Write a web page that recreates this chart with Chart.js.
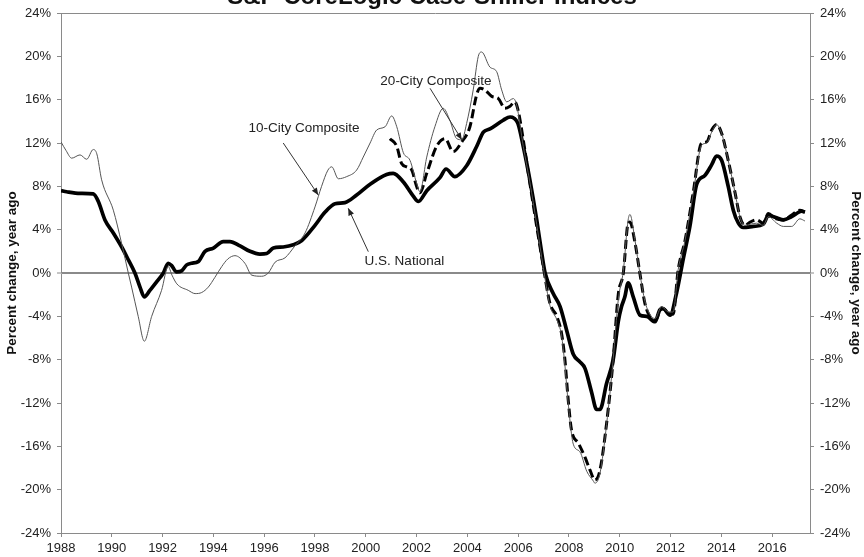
<!DOCTYPE html>
<html><head><meta charset="utf-8">
<script src="https://cdn.jsdelivr.net/npm/chart.js@4"></script>
<style>html,body{margin:0;padding:0;background:#fff;overflow:hidden;}#wrap{position:relative;width:864px;height:557px;}</style>
</head><body><div id="wrap"><canvas id="c" width="864" height="557"></canvas></div>
<script>
const titleText = 'S&P CoreLogic Case-Shiller Indices';
const axisTitle = 'Percent change, year ago';
const yTickValues = [-24,-20,-16,-12,-8,-4,0,4,8,12,16,20,24];
const xTickYears = [1988,1990,1992,1994,1996,1998,2000,2002,2004,2006,2008,2010,2012,2014,2016];

const nationalYears = [1988.00,1988.22,1988.75,1989.27,1989.47,1989.73,1990.06,1990.39,1990.59,1990.91,1991.11,1991.28,1991.50,1991.77,1992.03,1992.22,1992.35,1992.55,1992.75,1992.95,1993.14,1993.40,1993.67,1994.00,1994.39,1994.65,1995.05,1995.44,1995.83,1996.10,1996.36,1996.75,1997.15,1997.48,1998.00,1998.39,1998.79,1999.18,1999.64,2000.17,2000.82,2001.08,2001.48,2001.87,2002.07,2002.40,2002.92,2003.16,2003.51,2003.97,2004.37,2004.63,2004.89,2005.41,2005.68,2005.83,2005.99,2006.20,2006.46,2006.73,2006.93,2007.06,2007.38,2007.65,2007.91,2008.17,2008.43,2008.63,2008.89,2009.09,2009.22,2009.48,2009.74,2009.94,2010.07,2010.20,2010.33,2010.53,2010.80,2011.06,2011.39,2011.58,2011.71,2011.98,2012.24,2012.50,2012.76,2013.03,2013.35,2013.62,2013.81,2014.01,2014.27,2014.47,2014.67,2014.86,2015.26,2015.65,2015.85,2016.18,2016.44,2016.77,2017.16,2017.29];
const nationalValues = [7.6,7.5,7.35,7.3,6.6,4.9,3.7,2.4,1.5,0.0,-1.3,-2.2,-1.6,-0.8,0.0,0.9,0.7,0.1,0.2,0.75,0.9,1.05,2.0,2.3,2.9,2.9,2.5,2.0,1.75,1.8,2.3,2.4,2.6,3.0,4.4,5.6,6.4,6.5,7.2,8.2,9.1,9.2,8.4,7.1,6.6,7.6,8.8,9.6,8.9,9.9,11.7,13.0,13.3,14.1,14.4,14.3,13.8,11.7,8.6,4.9,1.8,0.0,-1.9,-3.1,-5.3,-7.5,-8.2,-8.8,-11.0,-12.6,-12.6,-10.2,-8.0,-4.5,-3.1,-2.2,-0.9,-2.2,-3.9,-4.0,-4.5,-3.4,-3.3,-3.9,-1.8,1.3,4.3,8.2,9.0,10.0,10.8,10.4,8.0,5.8,4.6,4.2,4.3,4.5,5.3,5.1,4.9,5.2,5.7,5.6];

const city10Years = [1988.00,1988.20,1988.42,1988.75,1989.01,1989.27,1989.41,1989.60,1990.06,1990.39,1990.65,1990.78,1991.04,1991.28,1991.57,1991.96,1992.22,1992.37,1992.56,1993.01,1993.28,1993.54,1993.80,1994.06,1994.33,1994.57,1994.85,1995.24,1995.51,1995.90,1996.16,1996.43,1996.82,1997.21,1997.61,1998.00,1998.26,1998.51,1998.66,1998.92,1999.25,1999.64,1999.90,2000.17,2000.43,2000.76,2001.02,2001.22,2001.48,2001.74,2002.00,2002.13,2002.40,2002.72,2003.05,2003.31,2003.58,2003.78,2003.97,2004.23,2004.43,2004.56,2004.89,2005.15,2005.35,2005.55,2005.81,2005.94,2006.20,2006.46,2006.73,2006.99,2007.25,2007.52,2007.71,2007.84,2007.97,2008.17,2008.43,2008.70,2008.96,2009.02,2009.22,2009.48,2009.74,2009.94,2010.14,2010.33,2010.40,2010.60,2010.79,2010.99,2011.18,2011.39,2011.65,2011.91,2012.10,2012.30,2012.57,2012.89,2013.22,2013.42,2013.62,2013.81,2014.01,2014.27,2014.54,2014.73,2014.93,2015.13,2015.39,2015.65,2015.85,2016.18,2016.44,2016.77,2017.09,2017.29];
const city10Values = [12.1,11.3,10.6,10.9,10.5,11.4,11.0,8.6,5.8,2.7,0.0,-1.3,-4.0,-6.3,-4.0,-1.6,0.6,-0.2,-1.0,-1.6,-1.9,-1.8,-1.3,-0.4,0.6,1.3,1.6,0.9,-0.2,-0.3,0.0,1.0,1.4,2.5,3.7,6.1,8.0,9.5,9.8,8.7,8.9,9.5,10.7,12.0,13.2,13.5,14.5,13.5,11.1,10.4,8.3,7.5,10.7,13.5,15.2,14.1,12.4,12.3,13.8,16.9,20.0,20.4,19.0,18.6,16.9,15.8,16.1,15.5,11.7,8.4,4.5,0.5,-3.0,-4.3,-5.8,-8.5,-12.0,-15.8,-16.5,-18.3,-19.2,-19.4,-18.5,-14.0,-8.0,-2.5,0.2,4.9,5.4,3.0,0.0,-2.6,-3.8,-4.2,-3.1,-3.6,-3.6,0.3,3.0,7.3,11.8,12.0,13.0,13.7,12.9,10.4,7.4,5.2,4.4,4.5,4.6,4.4,5.2,4.6,4.3,4.3,5.0,4.8];

const city20Years = [2000.95,2001.22,2001.41,2001.61,2001.81,2002.00,2002.13,2002.40,2002.79,2003.12,2003.44,2003.78,2004.10,2004.37,2004.50,2004.69,2004.96,2005.22,2005.48,2005.68,2005.87,2006.00,2006.20,2006.46,2006.73,2006.99,2007.25,2007.52,2007.71,2007.84,2007.97,2008.10,2008.37,2008.63,2008.83,2009.02,2009.22,2009.48,2009.74,2009.94,2010.14,2010.33,2010.40,2010.60,2010.79,2010.99,2011.18,2011.39,2011.65,2011.91,2012.10,2012.30,2012.57,2012.89,2013.22,2013.42,2013.62,2013.81,2014.01,2014.27,2014.54,2014.73,2014.93,2015.13,2015.39,2015.65,2015.85,2016.11,2016.44,2016.77,2017.09,2017.29];
const city20Values = [12.4,11.7,10.1,9.8,9.5,8.0,7.4,9.2,11.7,12.4,11.2,12.1,13.5,16.5,17.05,16.9,16.3,16.1,15.2,15.4,15.8,15.0,12.3,8.3,4.3,0.6,-2.8,-4.0,-5.6,-8.0,-11.7,-14.5,-15.7,-17.0,-18.2,-19.1,-18.2,-13.9,-8.0,-2.0,0.0,4.6,4.7,2.8,0.0,-2.8,-4.0,-4.4,-3.2,-3.7,-3.8,0.3,3.0,7.4,12.0,12.1,13.2,13.7,12.9,10.4,7.4,5.2,4.4,4.7,4.9,4.6,5.5,5.05,4.9,5.35,5.8,5.65];

// annotation labels: text, label anchor (year, %), arrow from (year, %) to (year, %)
const labelTexts = ['10-City Composite','20-City Composite','U.S. National'];
const labelAt = [[1997.57,13.4],[2002.76,17.7],[2001.52,1.05]];
const arrowFrom = [[1996.75,12.0],[2002.53,17.05],[2000.10,1.97]];
const arrowTo = [[1998.13,7.2],[2003.78,12.3],[1999.31,5.97]];

const FONT = "'Liberation Sans', Arial, sans-serif";
const AXIS = '#8a8a8a';

function pts(xs, ys){ return xs.map((x,i)=>({x:x, y:ys[i]})); }

const decor = {
  id:'decor',
  beforeDatasetsDraw(chart){
    const {ctx, chartArea:a} = chart;
    ctx.save();
    ctx.strokeStyle = AXIS; ctx.lineWidth = 1;
    ctx.beginPath(); ctx.moveTo(a.left, a.top+0.5); ctx.lineTo(a.right, a.top+0.5); ctx.stroke();
    ctx.restore();
  },
  afterDatasetsDraw(chart){
    const {ctx} = chart; const sx = chart.scales.x, sy = chart.scales.y;
    ctx.save();
    ctx.font = '13.5px ' + FONT; ctx.textAlign='center'; ctx.textBaseline='middle';
    labelTexts.forEach((t,i)=>{
      ctx.fillStyle = '#222';
      ctx.fillText(t, sx.getPixelForValue(labelAt[i][0]), sy.getPixelForValue(labelAt[i][1]));
      const x1 = sx.getPixelForValue(arrowFrom[i][0]), y1 = sy.getPixelForValue(arrowFrom[i][1]);
      const x2 = sx.getPixelForValue(arrowTo[i][0]), y2 = sy.getPixelForValue(arrowTo[i][1]);
      ctx.strokeStyle='#333'; ctx.lineWidth=1;
      ctx.beginPath(); ctx.moveTo(x1,y1); ctx.lineTo(x2,y2); ctx.stroke();
      const ang = Math.atan2(y2-y1, x2-x1), L=7, W=3;
      ctx.beginPath(); ctx.moveTo(x2,y2);
      ctx.lineTo(x2 - L*Math.cos(ang) + W*Math.sin(ang), y2 - L*Math.sin(ang) - W*Math.cos(ang));
      ctx.lineTo(x2 - L*Math.cos(ang) - W*Math.sin(ang), y2 - L*Math.sin(ang) + W*Math.cos(ang));
      ctx.closePath(); ctx.fill();
    });
    ctx.font = 'bold 24px ' + FONT; ctx.fillStyle='#111'; ctx.textAlign='center'; ctx.textBaseline='alphabetic';
    ctx.fillText(titleText, chart.width/2, 4);
    ctx.restore();
  }
};

function yAxis(pos, w){
  return {
    type:'linear', position:pos, min:-24, max:24,
    afterBuildTicks: s => { s.ticks = yTickValues.map(v=>({value:v})); },
    afterFit: s => { s.width = w; s.paddingTop = 0; s.paddingBottom = 0; },
    ticks:{ callback: v => v + '%', font:{family:FONT, size:13}, color:'#222', padding:6 },
    grid:{ drawOnChartArea: pos==='left', drawTicks:true, tickLength:4,
      color: c => (c.tick && c.tick.value===0) ? '#8a8a8a' : 'rgba(0,0,0,0)',
      lineWidth: c => (c.tick && c.tick.value===0) ? 2 : 1,
      tickColor: AXIS, tickWidth:1 },
    border:{ display:true, color:AXIS, width:1 },
    title:{ display:true, text:axisTitle, font:{family:FONT, size:13.5, weight:'bold'}, color:'#111', padding:{top:pos==='left'?4:0, bottom:0} }
  };
}

new Chart(document.getElementById('c'), {
  type:'line',
  data:{ datasets:[
    { label:'10-City Composite', data:pts(city10Years, city10Values), borderColor:'#555', borderWidth:1, pointRadius:0, cubicInterpolationMode:'monotone', fill:false },
    { label:'U.S. National', data:pts(nationalYears, nationalValues), borderColor:'#000', borderWidth:3.7, pointRadius:0, cubicInterpolationMode:'monotone', fill:false },
    { label:'20-City Composite', data:pts(city20Years, city20Values), borderColor:'#000', borderWidth:3, borderDash:[9,4], pointRadius:0, cubicInterpolationMode:'monotone', fill:false }
  ]},
  options:{
    responsive:false, animation:false, devicePixelRatio:1,
    layout:{ padding:{ top:13, left:0, right:0, bottom:0 } },
    plugins:{ legend:{display:false}, tooltip:{enabled:false}, title:{display:false} },
    scales:{
      x:{ type:'linear', position:'bottom', min:1988, max:2017.49,
        afterBuildTicks: s => { s.ticks = xTickYears.map(v=>({value:v})); },
        afterFit: s => { s.height = 24; s.paddingLeft = 0; s.paddingRight = 0; },
        ticks:{ callback: v => String(v), font:{family:FONT, size:13}, color:'#222', maxRotation:0, autoSkip:false, padding:4 },
        grid:{ drawOnChartArea:false, drawTicks:true, tickLength:4, color:AXIS },
        border:{ display:true, color:AXIS, width:1 } },
      y: yAxis('left', 61),
      y2: yAxis('right', 54)
    }
  },
  plugins:[decor]
});
</script></body></html>
